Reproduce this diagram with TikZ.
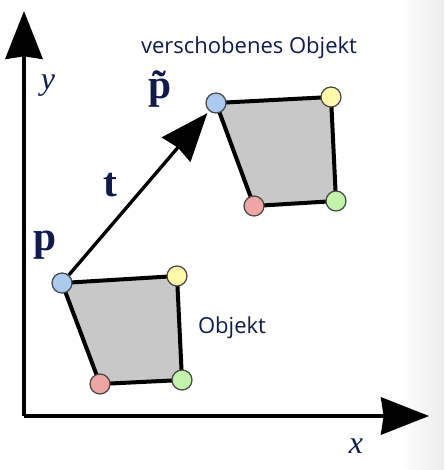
\documentclass[tikz,border=0pt]{standalone}
\usepackage{fontspec}
\setsansfont{Open Sans}
\newfontfamily\lblfont{Liberation Serif}
\usetikzlibrary{arrows.meta}
\definecolor{navy}{RGB}{16,26,78}
\definecolor{quadgray}{RGB}{200,200,200}
\definecolor{ptblue}{RGB}{170,202,242}
\definecolor{ptyellow}{RGB}{255,250,170}
\definecolor{ptgreen}{RGB}{192,245,170}
\definecolor{ptred}{RGB}{240,165,165}
\tikzset{every picture/.style={line width=0.75pt}}
\tikzset{
  vertex/.style={circle,draw={rgb,255:red,70;green,70;blue,70},line width=0.9pt,minimum size=15pt,inner sep=0pt},
  bigarrow/.style={line width=2.5pt,-{Stealth[length=36pt,width=28pt,inset=2pt]}},
  quad/.style={draw=black,fill=quadgray,line width=3pt,line join=round},
  sanslabel/.style={text=navy,inner sep=0.75pt,font=\sffamily\fontsize{16.5}{19}\selectfont},
  boldlabel/.style={text=navy,inner sep=0.75pt,font=\lblfont\bfseries\fontsize{31}{34}\selectfont},
  itlabel/.style={text=navy,inner sep=0.75pt,font=\lblfont\itshape\fontsize{24}{27}\selectfont}
}

\begin{document}
\begin{tikzpicture}[x=0.75pt,y=0.75pt,yscale=-1,xscale=1]
%set diagram left start at 0, and has height of 470
\useasboundingbox (0,0) rectangle (444,470);
\fill[white] (0,0) rectangle (444,470);
%Shade right edge
\shade[left color=white,right color={rgb,255:red,236;green,236;blue,236}] (400,0) rectangle (444,470);

%Shape: Axis 2D
\coordinate (O) at (24,416);
\coordinate (xend) at (429,416);
\coordinate (yend) at (24,11);
\draw [bigarrow] (O) -- (xend) ;
\draw [bigarrow] (O) -- (yend) ;

%Shape: Polygon [id:Objekt]
\coordinate (P1) at (62,283);
\coordinate (A1) at (177,276);
\coordinate (B1) at (182,380);
\coordinate (C1) at (100,384);
\draw [quad] (P1) -- (A1) -- (B1) -- (C1) -- cycle ;

%Shape: Polygon [id:verschobenes Objekt]
\coordinate (P2) at (216,103);
\coordinate (A2) at (331,97);
\coordinate (B2) at (336,201);
\coordinate (C2) at (254,206);
\draw [quad] (P2) -- (A2) -- (B2) -- (C2) -- cycle ;

%Shape: Circles (vertices)
\node [vertex,fill=ptblue] (p) at (P1) {};
\node [vertex,fill=ptyellow] (a1) at (A1) {};
\node [vertex,fill=ptgreen] (b1) at (B1) {};
\node [vertex,fill=ptred] (c1) at (C1) {};
\node [vertex,fill=ptblue] (pt) at (P2) {};
\node [vertex,fill=ptyellow] (a2) at (A2) {};
\node [vertex,fill=ptgreen] (b2) at (B2) {};
\node [vertex,fill=ptred] (c2) at (C2) {};

%Straight Lines [id:t]
\draw [bigarrow,shorten >=2pt] (p) -- (pt) ;

% Text Node
\node [itlabel] (ylbl) at (48,86) {y};
% Text Node
\node [itlabel] (xlbl) at (356,446) {x};
% Text Node
\node [boldlabel] (plbl) at (45,245) {p};
% Text Node
\node [boldlabel] (ptlbl) at (160,89) {\~{p}};
% Text Node
\node [boldlabel] (tlbl) at (110,185) {t};
% Text Node
\node [sanslabel] (verschoben) at (249,48) {verschobenes Objekt};
% Text Node
\node [sanslabel] (objekt) at (232,328) {Objekt};

\end{tikzpicture}
\end{document}
